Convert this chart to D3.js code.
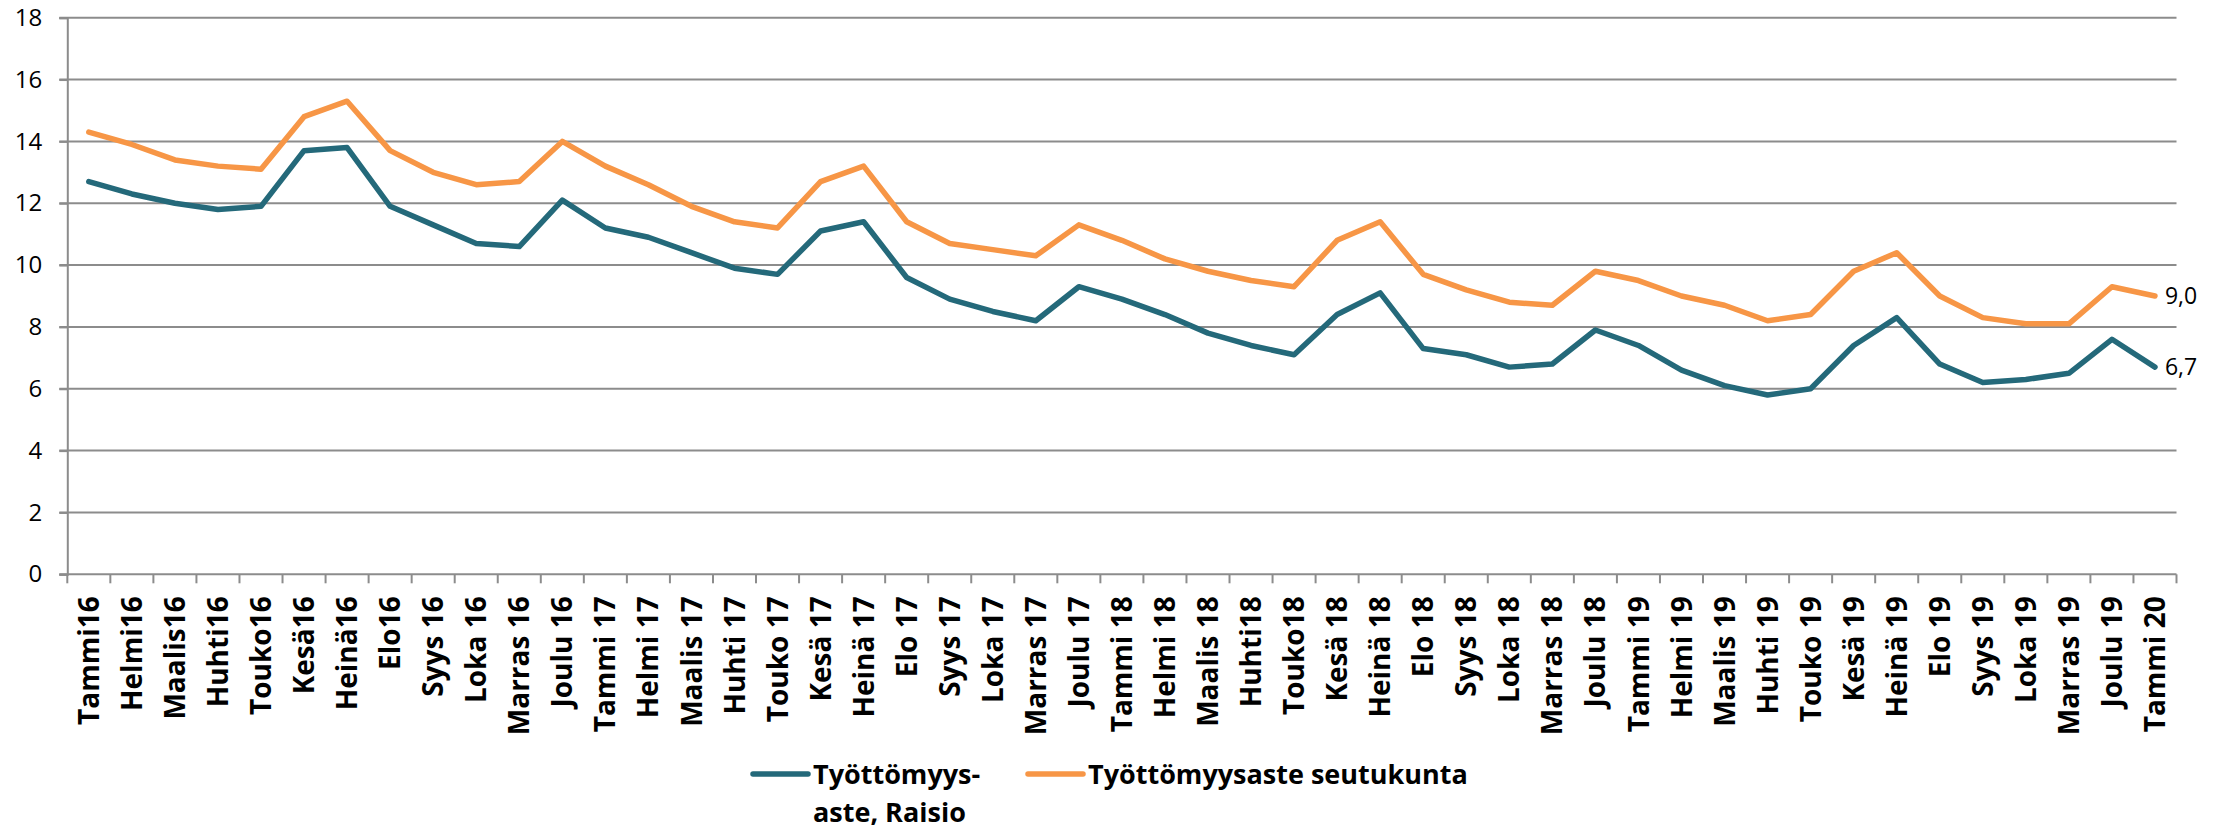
<!DOCTYPE html>
<html>
<head>
<meta charset="utf-8">
<script src="https://cdn.jsdelivr.net/npm/d3@7"></script>
<style>
    body { margin: 0; background: #fff; }
    svg { display: block; }
    .tick-label { font-family: "Open Sans", sans-serif; }
</style>
</head>
<body>
<div id="chart"></div>
<script>
// Months (x categories)
const months = [
    'Tammi16', 'Helmi16', 'Maalis16', 'Huhti16', 'Touko16', 'Kesä16', 'Heinä16', 'Elo16',
    'Syys 16', 'Loka 16', 'Marras 16', 'Joulu 16',
    'Tammi 17', 'Helmi 17', 'Maalis 17', 'Huhti 17', 'Touko 17', 'Kesä 17', 'Heinä 17', 'Elo 17',
    'Syys 17', 'Loka 17', 'Marras 17', 'Joulu 17',
    'Tammi 18', 'Helmi 18', 'Maalis 18', 'Huhti18', 'Touko18', 'Kesä 18', 'Heinä 18', 'Elo 18',
    'Syys 18', 'Loka 18', 'Marras 18', 'Joulu 18',
    'Tammi 19', 'Helmi 19', 'Maalis 19', 'Huhti 19', 'Touko 19', 'Kesä 19', 'Heinä 19', 'Elo 19',
    'Syys 19', 'Loka 19', 'Marras 19', 'Joulu 19',
    'Tammi 20'
];

// Työttömyysaste, Raisio
const raisio = [
    12.7, 12.3, 12.0, 11.8, 11.9, 13.7, 13.8, 11.9, 11.3, 10.7, 10.6, 12.1,
    11.2, 10.9, 10.4, 9.9, 9.7, 11.1, 11.4, 9.6, 8.9, 8.5, 8.2, 9.3,
    8.9, 8.4, 7.8, 7.4, 7.1, 8.4, 9.1, 7.3, 7.1, 6.7, 6.8, 7.9,
    7.4, 6.6, 6.1, 5.8, 6.0, 7.4, 8.3, 6.8, 6.2, 6.3, 6.5, 7.6,
    6.7
];

// Työttömyysaste seutukunta
const seutukunta = [
    14.3, 13.9, 13.4, 13.2, 13.1, 14.8, 15.3, 13.7, 13.0, 12.6, 12.7, 14.0,
    13.2, 12.6, 11.9, 11.4, 11.2, 12.7, 13.2, 11.4, 10.7, 10.5, 10.3, 11.3,
    10.8, 10.2, 9.8, 9.5, 9.3, 10.8, 11.4, 9.7, 9.2, 8.8, 8.7, 9.8,
    9.5, 9.0, 8.7, 8.2, 8.4, 9.8, 10.4, 9.0, 8.3, 8.1, 8.1, 9.3,
    9.0
];

const yTicks = [0, 2, 4, 6, 8, 10, 12, 14, 16, 18];

const seriesNames = [['Työttömyys-', 'aste, Raisio'], ['Työttömyysaste seutukunta']];
const seriesColors = ['#24697a', '#f79646'];

const width = 2221;
const height = 829;
const margin = {top: 17.7, right: 44.5, bottom: 254.7, left: 67.3};

const svg = d3.select('#chart').append('svg')
    .attr('width', width)
    .attr('height', height);

const x = d3.scaleBand()
    .domain(months)
    .range([margin.left, width - margin.right]);

const y = d3.scaleLinear()
    .domain([0, 18])
    .range([height - margin.bottom, margin.top]);

const gridColor = '#8c8c8c';

// Horizontal gridlines (start a bit left of the axis, like the tick marks)
svg.append('g')
    .selectAll('line')
    .data(yTicks)
    .enter()
    .append('line')
    .attr('x1', margin.left - 8)
    .attr('x2', width - margin.right)
    .attr('y1', d => y(d))
    .attr('y2', d => y(d))
    .style('stroke', gridColor)
    .style('stroke-width', 2);

// Y axis
const yAxis = svg.append('g')
    .attr('transform', `translate(${margin.left},0)`)
    .call(d3.axisLeft(y).tickValues(yTicks).tickSize(8).tickPadding(17).tickFormat(d3.format('d')));
yAxis.select('.domain').style('stroke', gridColor).style('stroke-width', 2);
yAxis.selectAll('.tick line').style('stroke', gridColor).style('stroke-width', 2);
yAxis.selectAll('text')
    .attr('class', 'tick-label')
    .style('font-size', '24px')
    .style('fill', '#000');

// X axis labels (rotated)
const xAxis = svg.append('g')
    .attr('transform', `translate(0,${y(0)})`)
    .call(d3.axisBottom(x).tickSize(0));
xAxis.select('.domain').remove();
xAxis.selectAll('text')
    .attr('class', 'tick-label')
    .attr('transform', 'rotate(-90)')
    .attr('x', -22)
    .attr('y', 0)
    .attr('dy', '0.36em')
    .style('text-anchor', 'end')
    .style('font-size', '28px')
    .style('font-weight', 'bold')
    .style('fill', '#000');

// Category boundary tick marks
const boundaries = months.map(m => x(m)).concat([x(months[months.length - 1]) + x.bandwidth()]);
svg.append('g')
    .selectAll('line')
    .data(boundaries)
    .enter()
    .append('line')
    .attr('x1', d => d)
    .attr('x2', d => d)
    .attr('y1', y(0))
    .attr('y2', y(0) + 9)
    .style('stroke', gridColor)
    .style('stroke-width', 2);

// Lines
const line = d3.line()
    .x((d, i) => x(months[i]) + x.bandwidth() / 2)
    .y(d => y(d));

[raisio, seutukunta].forEach((values, k) => {
    svg.append('path')
        .datum(values)
        .attr('d', line)
        .style('fill', 'none')
        .style('stroke', seriesColors[k])
        .style('stroke-width', 5.5)
        .style('stroke-linejoin', 'round')
        .style('stroke-linecap', 'round');

    // Value label at the last point
    const last = values.length - 1;
    svg.append('text')
        .attr('x', x(months[last]) + x.bandwidth() / 2 + 10)
        .attr('y', y(values[last]))
        .attr('dy', '0.36em')
        .style('font-family', '"Open Sans", sans-serif')
        .style('font-size', '23px')
        .style('fill', '#000')
        .text(d3.format('.1f')(values[last]).replace('.', ','));
});

// Legend
const legendItems = [{x: 753, lines: seriesNames[0]}, {x: 1028, lines: seriesNames[1]}];
legendItems.forEach((item, k) => {
    svg.append('line')
        .attr('x1', item.x)
        .attr('x2', item.x + 55)
        .attr('y1', 774)
        .attr('y2', 774)
        .style('stroke', seriesColors[k])
        .style('stroke-width', 5.5)
        .style('stroke-linecap', 'round');

    const text = svg.append('text')
        .attr('x', item.x + 60)
        .attr('y', 784)
        .style('font-family', '"Open Sans", sans-serif')
        .style('font-size', '27px')
        .style('font-weight', 'bold')
        .style('fill', '#000');
    item.lines.forEach((t, i) => {
        text.append('tspan')
            .attr('x', item.x + 60)
            .attr('dy', i === 0 ? 0 : 38)
            .text(t);
    });
});
</script>
</body>
</html>
